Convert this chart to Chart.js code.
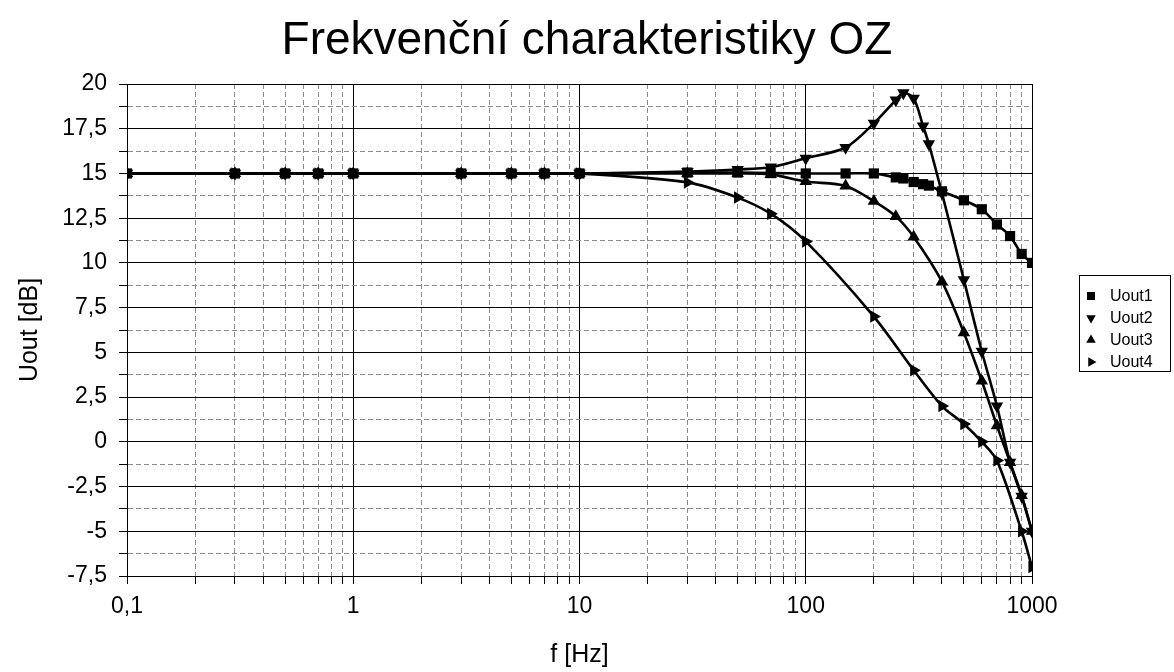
<!DOCTYPE html>
<html>
<head>
<meta charset="utf-8">
<script src="https://cdn.jsdelivr.net/npm/chart.js@4/dist/chart.umd.min.js"></script>
<style>
  html, body { margin: 0; padding: 0; background: #fff; }
  canvas { display: block; }
</style>
</head>
<body>
<canvas id="c" width="1174" height="672"></canvas>
<script>
// ---- data ----
const seriesNames = ['Uout1', 'Uout2', 'Uout3', 'Uout4'];

const freqUout1 = [0.1, 0.3, 0.5, 0.7, 1, 3, 5, 7, 10, 30, 50, 70, 100, 150, 200, 250, 270, 300, 330, 350, 400, 500, 600, 700, 800, 900, 1000];
const uout1     = [15, 15, 15, 15, 15, 15, 15, 15, 15, 15.05, 15.05, 15.02, 15, 15, 15, 14.78, 14.72, 14.52, 14.4, 14.32, 14.0, 13.5, 13.0, 12.15, 11.5, 10.5, 10.0];

const freqUout2 = [0.1, 0.3, 0.5, 0.7, 1, 3, 5, 7, 10, 30, 50, 70, 100, 150, 200, 250, 270, 300, 330, 350, 400, 500, 600, 700, 800, 900, 1000];
const uout2     = [15, 15, 15, 15, 15, 15, 15, 15, 15, 15.1, 15.22, 15.35, 15.85, 16.45, 17.8, 19.1, 19.5, 19.2, 17.65, 16.65, 13.9, 9.05, 5.05, 2.0, -1.15, -3.05, -5.0];

const freqUout3 = [0.1, 0.3, 0.5, 0.7, 1, 3, 5, 7, 10, 30, 50, 70, 100, 150, 200, 250, 300, 400, 500, 600, 700, 800, 900, 1000];
const uout3     = [15, 15, 15, 15, 15, 15, 15, 15, 15, 15.0, 15.0, 14.95, 14.55, 14.3, 13.45, 12.6, 11.45, 8.95, 6.1, 3.4, 0.9, -1.15, -3.0, -5.0];

const freqUout4 = [0.1, 0.3, 0.5, 0.7, 1, 3, 5, 7, 10, 30, 50, 70, 100, 200, 300, 400, 500, 600, 700, 900, 1000];
const uout4     = [15, 15, 15, 15, 15, 15, 15, 15, 15, 14.5, 13.65, 12.75, 11.2, 7.0, 4.0, 2.0, 1.0, 0.0, -1.05, -5.0, -7.0];

const xTickValues = [0.1, 1, 10, 100, 1000];
const xTickLabels = ['0,1', '1', '10', '100', '1000'];
const yTickValues = [20, 17.5, 15, 12.5, 10, 7.5, 5, 2.5, 0, -2.5, -5, -7.5];
const yTickLabels = ['20', '17,5', '15', '12,5', '10', '7,5', '5', '2,5', '0', '-2,5', '-5', '-7,5'];

// ---- styles ----
const FONT = '"Liberation Sans", Arial, sans-serif';
const markerStyles = [
  { pointStyle: 'rect', rotation: 0, radius: 7.2 },
  { pointStyle: 'triangle', rotation: 180, radius: 7.2 },
  { pointStyle: 'triangle', rotation: 0, radius: 7.2 },
  { pointStyle: 'triangle', rotation: 90, radius: 7.2 }
];

function toPoints(xs, ys) { return xs.map((x, i) => ({ x: x, y: ys[i] })); }
const allSeries = [
  toPoints(freqUout1, uout1),
  toPoints(freqUout2, uout2),
  toPoints(freqUout3, uout3),
  toPoints(freqUout4, uout4)
];

const datasets = allSeries.map((pts, i) => ({
  label: seriesNames[i],
  data: pts,
  borderColor: '#000',
  backgroundColor: '#000',
  borderWidth: 2.6,
  pointStyle: markerStyles[i].pointStyle,
  pointRotation: markerStyles[i].rotation,
  pointRadius: markerStyles[i].radius,
  pointBorderWidth: 0,
  pointBackgroundColor: '#000',
  tension: 0.3,
  fill: false
}));

function isDecade(v) {
  return xTickValues.some(d => Math.abs(v / d - 1) < 1e-9);
}
function isMajorY(v) {
  return yTickValues.some(d => Math.abs(v - d) < 1e-9);
}

// custom legend with border
const boxedLegend = {
  id: 'boxedLegend',
  afterDraw(chart) {
    const ctx = chart.ctx;
    ctx.save();
    ctx.strokeStyle = '#000';
    ctx.lineWidth = 1;
    ctx.strokeRect(1079.5, 275.5, 91, 96);
    ctx.font = '16px ' + FONT;
    ctx.fillStyle = '#000';
    ctx.textBaseline = 'middle';
    ctx.textAlign = 'left';
    chart.data.datasets.forEach((ds, i) => {
      const y = 296 + i * 22;
      const x = 1091;
      ctx.beginPath();
      if (markerStyles[i].pointStyle === 'rect') {
        ctx.rect(x - 4, y - 4, 8, 8);
      } else {
        const r = 5.5;
        let rad = markerStyles[i].rotation * Math.PI / 180;
        ctx.moveTo(x + Math.sin(rad) * r, y - Math.cos(rad) * r);
        rad += 2 * Math.PI / 3;
        ctx.lineTo(x + Math.sin(rad) * r, y - Math.cos(rad) * r);
        rad += 2 * Math.PI / 3;
        ctx.lineTo(x + Math.sin(rad) * r, y - Math.cos(rad) * r);
        ctx.closePath();
      }
      ctx.fill();
      ctx.fillText(ds.label, 1110, y + 1);
    });
    ctx.restore();
  }
};

new Chart(document.getElementById('c'), {
  type: 'line',
  data: { datasets: datasets },
  plugins: [boxedLegend],
  options: {
    responsive: false,
    animation: false,
    devicePixelRatio: 1,
    layout: { padding: 0 },
    plugins: {
      legend: { display: false },
      tooltip: { enabled: false },
      title: {
        display: true,
        text: 'Frekvenční charakteristiky OZ',
        color: '#000',
        font: { family: FONT, size: 46, weight: 'normal' },
        padding: { top: 14, bottom: 14.8 }
      }
    },
    scales: {
      x: {
        type: 'logarithmic',
        min: 0.1,
        max: 1000,
        afterBuildTicks(scale) {
          const ticks = [];
          for (let k = 0; k < xTickValues.length - 1; k++) {
            for (let m = 1; m <= 9; m++) {
              const v = Number((xTickValues[k] * m).toPrecision(8));
              ticks.push({ value: v });
            }
          }
          ticks.push({ value: xTickValues[xTickValues.length - 1] });
          scale.ticks = ticks;
        },
        afterFit(scale) {
          scale.height = 96;
          scale.paddingLeft = 0;
          scale.paddingRight = 142;
        },
        ticks: {
          autoSkip: false,
          maxRotation: 0,
          minRotation: 0,
          padding: 9,
          color: '#000',
          font: { family: FONT, size: 23 },
          callback(value) {
            const idx = xTickValues.findIndex(d => Math.abs(value / d - 1) < 1e-9);
            return idx >= 0 ? xTickLabels[idx] : '';
          }
        },
        grid: {
          color: ctx => (ctx.tick && isDecade(ctx.tick.value)) ? '#000' : '#8c8c8c',
          lineWidth: 1,
          tickLength: 8,
          tickColor: '#000',
          tickBorderDash: []
        },
        border: {
          display: true,
          color: '#000',
          width: 1,
          dash: ctx => (ctx.tick && !isDecade(ctx.tick.value)) ? [5, 3] : []
        },
        title: {
          display: true,
          text: 'f [Hz]',
          color: '#000',
          font: { family: FONT, size: 25 },
          padding: { top: 0, bottom: 2 }
        }
      },
      y: {
        type: 'linear',
        min: -7.5,
        max: 20,
        afterFit(scale) {
          scale.width = 127;
        },
        ticks: {
          stepSize: 1.25,
          autoSkip: false,
          padding: 12,
          color: '#000',
          font: { family: FONT, size: 23 },
          callback(value) {
            const idx = yTickValues.findIndex(d => Math.abs(value - d) < 1e-9);
            return idx >= 0 ? yTickLabels[idx] : '';
          }
        },
        grid: {
          color: ctx => (ctx.tick && isMajorY(ctx.tick.value)) ? '#000' : '#8c8c8c',
          lineWidth: 1,
          tickLength: 8,
          tickColor: '#000',
          tickBorderDash: []
        },
        border: {
          display: true,
          color: '#000',
          width: 1,
          dash: ctx => (ctx.tick && !isMajorY(ctx.tick.value)) ? [5, 3] : []
        },
        title: {
          display: true,
          text: 'Uout [dB]',
          color: '#000',
          font: { family: FONT, size: 25 },
          padding: { top: 15, bottom: 0 }
        }
      }
    }
  }
});
</script>
</body>
</html>
